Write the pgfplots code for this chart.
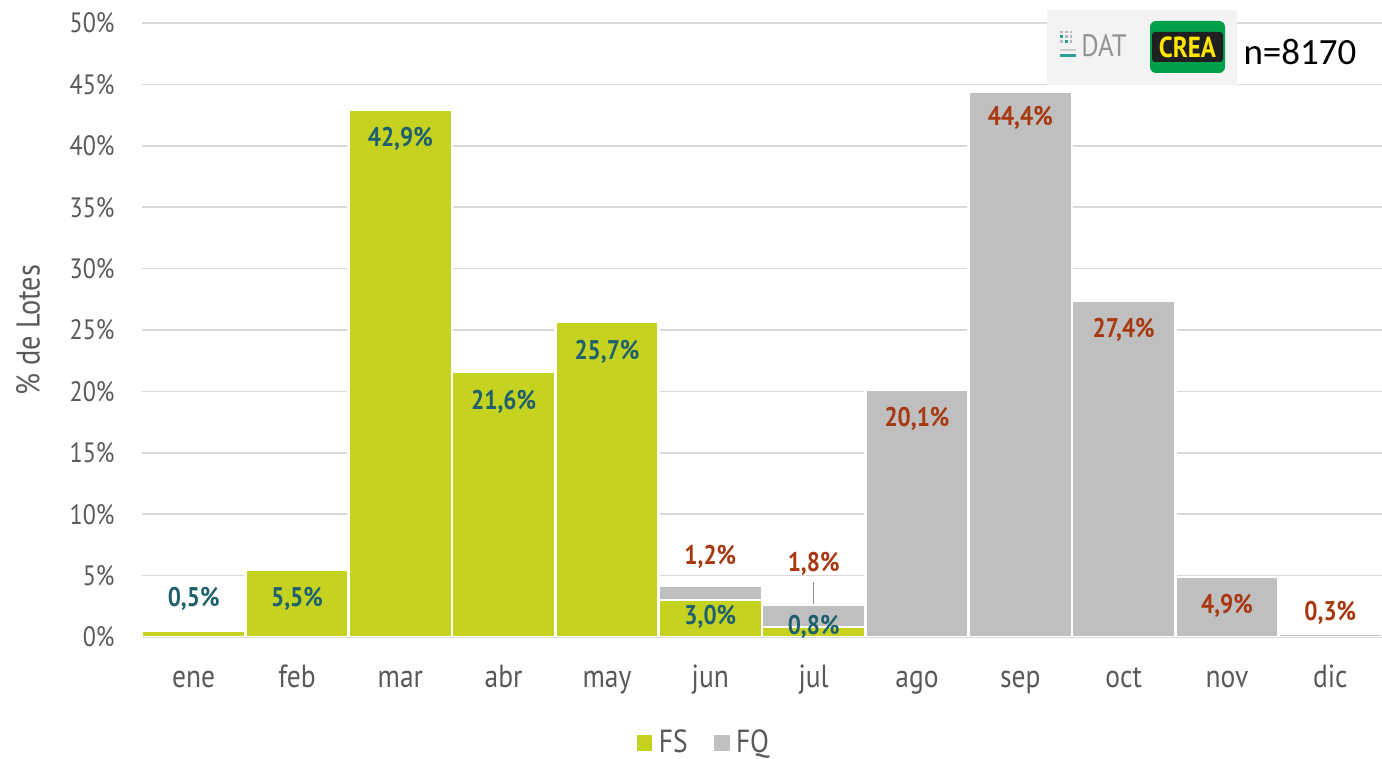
\documentclass[border=0pt]{standalone}
\usepackage{fontspec}
\setmainfont{PT Sans}[FakeStretch=0.86]
\newfontfamily\calibri{Carlito}
\usepackage{pgfplots}
\usepackage{pgfplotstable}
\pgfplotsset{compat=1.18}
\definecolor{fsgreen}{RGB}{197,210,32}
\definecolor{fqgray}{RGB}{191,191,191}
\definecolor{labteal}{RGB}{31,96,110}
\definecolor{labred}{RGB}{168,56,16}
\definecolor{gridc}{RGB}{217,217,217}
\definecolor{txtgray}{RGB}{89,89,89}
\definecolor{logobg}{RGB}{243,243,243}
\definecolor{creagreen}{RGB}{0,160,75}
\definecolor{creayellow}{RGB}{255,229,0}
\definecolor{datteal}{RGB}{40,160,150}

% dy: label shift (pt) from the middle of the segment
\pgfplotstableread{
x y lab dy
1 0.5 0,5\% 17.5
2 5.5 5,5\% 2.1
3 42.9 42,9\% 117.2
4 21.6 21,6\% 51.3
5 25.7 25,7\% 63.9
6 3.0 3,0\% 0.9
7 0.8 0,8\% 2.8
8 0 {} 0
9 0 {} 0
10 0 {} 0
11 0 {} 0
12 0 {} 0
}\fsdata

\pgfplotstableread{
x y lab dy
1 0 {} 0
2 0 {} 0
3 0 {} 0
4 0 {} 0
5 0 {} 0
6 1.2 1,2\% 18.2
7 1.8 1,8\% 26.0
8 20.1 20,1\% 47.2
9 44.4 44,4\% 123.3
10 27.4 27,4\% 69.4
11 4.9 4,9\% 0.4
12 0.3 0,3\% 10.9
}\fqdata

\begin{document}
\begin{tikzpicture}
\useasboundingbox (-71pt,-61pt) rectangle (620pt,318.5pt);
\begin{axis}[
  at={(0,0)}, anchor=south west,
  scale only axis, width=620pt, height=307pt,
  ybar stacked, bar width=1,
  xmin=0.5, xmax=12.5, ymin=0, ymax=50,
  xtick={1,2,3,4,5,6,7,8,9,10,11,12},
  xticklabels={ene,feb,mar,abr,may,jun,jul,ago,sep,oct,nov,dic},
  ytick={0,5,10,15,20,25,30,35,40,45,50},
  yticklabel={\pgfmathprintnumber{\tick}\%},
  /pgf/number format/assume math mode=true,
  ymajorgrids, grid style={gridc, line width=0.8pt},
  axis line style={draw=none},
  major tick length=0pt,
  tick style={draw=none},
  yticklabel style={anchor=east, inner sep=0pt, xshift=-13.5pt, font=\fontsize{14}{14}\selectfont, text=txtgray},
  xticklabel style={anchor=base, inner sep=0pt, yshift=-25.5pt, font=\fontsize{16}{16}\selectfont, text=txtgray},
  ylabel={\% de Lotes},
  ylabel style={at={(axis description cs:-0.0919,0.5)}, anchor=center, font=\fontsize{16.5}{16.5}\selectfont, text=txtgray},
  legend style={at={(axis description cs:0.453,-0.1726)}, anchor=center, draw=none, fill=none,
    legend columns=2, font=\fontsize{16}{16}\selectfont, text=txtgray,
    /tikz/every even column/.append style={column sep=10pt}},
  legend image code/.code={\fill[#1] (0pt,-4.5pt) rectangle (9pt,4.5pt);},
  point meta=explicit symbolic,
  nodes near coords={\pgfplotspointmeta},
  visualization depends on={\thisrow{dy} \as \dy},
  every node near coord/.append style={anchor=center, yshift=\dy pt, inner sep=0pt,
    font=\bfseries\fontsize{13.5}{13.5}\selectfont},
]
\addplot[fill=fsgreen, draw=white, line width=1.2pt,
  every node near coord/.append style={text=labteal}]
  table[x=x, y=y, meta=lab] {\fsdata};
\addlegendentry{FS}
\addplot[fill=fqgray, draw=white, line width=1.2pt,
  every node near coord/.append style={text=labred}]
  table[x=x, y=y, meta=lab] {\fqdata};
\addlegendentry{FQ}
\draw[gridc, line width=1.2pt] (axis cs:0.5,0) -- (axis cs:12.5,0);
\draw[gray!90, line width=0.8pt] ([yshift=0.5pt]axis cs:7,2.6) -- ([yshift=11.5pt]axis cs:7,2.6);
\end{axis}
% logo block
\fill[logobg] (452.5pt,276pt) rectangle (547.5pt,313.5pt);
\foreach \i in {0,1,2}{\foreach \j in {0,1,2}{
  \fill[gray!55] (459pt+\i*2.4pt,297pt+\j*2.4pt) rectangle ++(1.4pt,1.4pt);}}
\fill[datteal] (459pt,299.4pt) rectangle ++(1.4pt,1.4pt);
\fill[datteal] (461.4pt,296.9pt) rectangle ++(1.4pt,1.4pt);
\fill[datteal] (459pt,290pt) rectangle (467pt,291.4pt);
\fill[gray!40] (459pt,293pt) rectangle (467pt,294.2pt);
\node[text=gray!85, inner sep=0pt, font=\fontsize{15.5}{15.5}\selectfont] at (481pt,295.5pt) {DAT};
\fill[creagreen, rounded corners=3pt] (504pt,282pt) rectangle (541.5pt,308pt);
\fill[black!88, rounded corners=1.5pt] (505pt,287.5pt) rectangle (540.5pt,302.5pt);
\node[text=creayellow, inner sep=0pt, font=\bfseries\fontsize{14.5}{14.5}\selectfont] at (522.75pt,295pt) {CREA};
\node[text=black, inner sep=0pt, font=\calibri\fontsize{18.5}{18.5}\selectfont] at (579pt,292.5pt) {n=8170};
\end{tikzpicture}
\end{document}
